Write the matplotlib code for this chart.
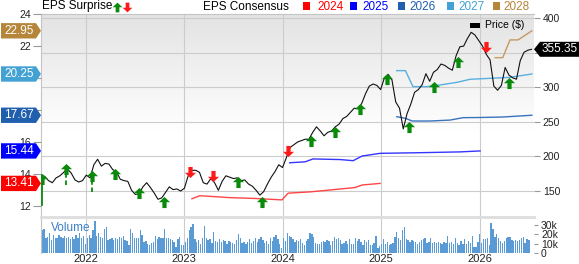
import numpy as np
import pandas as pd
import matplotlib
matplotlib.use("Agg")
import matplotlib.pyplot as plt
from matplotlib.path import Path
from matplotlib.patches import Polygon, Rectangle
from matplotlib.lines import Line2D
from matplotlib.colors import LinearSegmentedColormap
from matplotlib.transforms import blended_transform_factory

plt.rcParams['font.family'] = ['Liberation Sans', 'DejaVu Sans']

# closing price, one value every two weeks
price_dates = pd.date_range('2021-07-19', periods=131, freq='14D')
price = [173, 171, 165, 162, 169, 172, 177, 182, 176, 166,
         163, 165, 173, 169, 188, 196, 186, 190, 189, 181,
         178, 167, 165, 164, 151, 145, 146, 156, 162, 155,
         147, 138, 140, 148, 156, 152, 153, 150, 154, 172,
         180, 180, 177, 162, 160, 168, 162, 151, 164, 172,
         170, 168, 169, 165, 166, 160, 157, 151, 144, 149,
         160, 170, 178, 188, 184, 198, 213, 217, 221, 223,
         225, 225, 235, 243, 237, 230, 235, 237, 243, 247,
         255, 258, 264, 270, 269, 277, 291, 302, 305, 303,
         297, 314, 319, 311, 279, 270, 240, 262, 276, 293,
         297, 304, 320, 309, 322, 326, 334, 332, 328, 325,
         346, 359, 360, 371, 380, 376, 368, 360, 348, 340,
         302, 296, 303, 329, 318, 314, 312, 339, 351, 354,
         355.35]
last_price = 355.35

# weekly volume, thousands
volume_dates = pd.date_range('2021-07-23', periods=259, freq='7D')
volume = [25, 26, 16, 17, 21, 14, 19, 16, 16, 19,
          17, 16, 18, 16, 17, 15, 17, 15, 19, 16,
          21, 16, 18, 10, 16, 19, 16, 25, 34, 18,
          21, 17, 16, 26, 28, 14, 15, 16, 14, 16,
          15, 17, 16, 18, 14, 13, 9, 26, 21, 16,
          16, 16, 25, 19, 12, 13, 10, 9, 11, 12,
          18, 15, 17, 16, 16, 26, 16, 16, 15, 14,
          12, 6, 15, 17, 9, 9, 12, 16, 25, 28,
          31, 15, 12, 14, 10, 16, 29, 16, 14, 15,
          11, 23, 13, 12, 15, 12, 14, 13, 10, 13,
          12, 11, 10, 14, 20, 16, 11, 12, 10, 12,
          15, 11, 13, 16, 12, 15, 17, 14, 11, 13,
          10, 16, 13, 17, 19, 15, 10, 5, 16, 13, 21,
          18, 17, 15, 12, 14, 13, 15, 11, 9, 13,
          15, 21, 20, 17, 11, 10, 10, 12, 13, 12,
          14, 13, 9, 13, 17, 15, 16, 14, 10, 11,
          13, 10, 15, 10, 10, 16, 13, 15, 12, 9,
          14, 12, 14, 9, 9, 11, 18, 5, 7, 10,
          15, 10, 12, 9, 10, 11, 17, 23, 16, 14,
          25, 28, 15, 14, 12, 14, 13, 12, 10, 12,
          14, 15, 16, 11, 12, 16, 11, 12, 11, 12,
          11, 10, 12, 11, 18, 11, 12, 10, 16, 11,
          9, 13, 10, 15, 10, 13, 11, 18, 6, 6,
          12, 20, 11, 15, 15, 16, 9, 32, 26, 17,
          20, 16, 13, 11, 13, 16, 17, 17, 14, 13,
          14, 13, 14, 16, 17, 11, 15, 14]

# EPS consensus by fiscal year
eps_2024_dates = ['2023-01-30', '2023-02-28', '2023-04-08', '2023-06-20', '2023-09-20', '2023-12-30',
                  '2024-01-22', '2024-04-12', '2024-06-26', '2024-09-26', '2024-10-22', '2024-12-28']
eps_2024 = [12.45, 12.64, 12.60, 12.52, 12.47, 12.38, 12.80, 12.88, 13.00, 13.15, 13.31, 13.41]
eps_2025_dates = ['2024-01-28', '2024-03-25', '2024-04-23', '2024-08-02', '2024-09-19', '2024-10-22',
                  '2024-12-28', '2025-05-26', '2025-10-21', '2026-01-03']
eps_2025 = [14.70, 14.76, 14.94, 14.90, 14.83, 15.12, 15.29, 15.33, 15.38, 15.44]
eps_2026_dates = ['2025-02-28', '2025-04-01', '2025-04-26', '2025-07-01', '2025-09-14', '2025-11-01',
                  '2026-01-03', '2026-03-28', '2026-07-14']
eps_2026 = [17.58, 17.48, 17.31, 17.31, 17.37, 17.52, 17.53, 17.56, 17.67]
eps_2027_dates = ['2025-02-28', '2025-04-01', '2025-04-29', '2025-06-20', '2025-08-07', '2025-10-10',
                  '2025-11-27', '2026-02-10', '2026-04-24', '2026-07-14']
eps_2027 = [20.46, 20.46, 19.46, 19.46, 19.56, 19.73, 19.92, 19.98, 20.04, 20.25]
eps_2028_dates = ['2026-02-28', '2026-03-28', '2026-04-24', '2026-05-24', '2026-07-14']
eps_2028 = [21.27, 21.27, 22.38, 22.38, 22.95]

years = ['2024', '2025', '2026', '2027', '2028']
year_colors = ['#ff0000', '#0000ff', '#1f5fae', '#42a2d4', '#b5853a']
line_colors = ['#ff4545', '#3535ff', '#3a72bd', '#58afe0', '#c49a62']
consensus_dates = [eps_2024_dates, eps_2025_dates, eps_2026_dates, eps_2027_dates, eps_2028_dates]
consensus_values = [eps_2024, eps_2025, eps_2026, eps_2027, eps_2028]

# earnings surprises (drawn at price level)
surprise_dates = ['2021-07-23', '2021-10-20', '2022-01-24', '2022-04-19', '2022-07-17',
                  '2022-10-19', '2023-01-22', '2023-04-18', '2023-07-19', '2023-10-17',
                  '2024-01-21', '2024-04-16', '2024-07-14', '2024-10-15', '2025-01-23',
                  '2025-04-15', '2025-07-16', '2025-10-13', '2026-01-25', '2026-04-20']
surprise_up = [True, True, True, True, True, True, False, False, True, True,
               False, True, True, True, True, True, True, True, False, True]
surprise_price = [167, 182, 172, 175, 147, 134, 178, 171, 163, 134,
                  208, 223, 235, 269, 313, 243, 300, 337, 358, 306]
stem_dates = ['2021-07-23', '2021-10-20', '2022-01-24']
stem_top = [161, 176, 166]
stem_low = [130, 159, 149]
stem_styles = ['-', '--', '--']

W, H = 579, 264
fig = plt.figure(figsize=(W / 100, H / 100), dpi=100)
fig.patch.set_facecolor('white')


def rect(l, t, r, b):
    return [l / W, 1 - b / H, (r - l) / W, (b - t) / H]


def fx(x):
    return x / W


def fy(y):
    return 1 - y / H


ax_bg = fig.add_axes(rect(41, 14, 534, 217))
ax_eps = ax_bg.twinx()
ax_top = ax_bg.twinx()
ax_vol = fig.add_axes(rect(41, 217, 534, 253), sharex=ax_bg)

xmin, xmax = pd.Timestamp('2021-07-19'), pd.Timestamp('2026-07-22')
year_ticks = pd.to_datetime(['2022-01-01', '2023-01-01', '2024-01-01', '2025-01-01', '2026-01-01'])

# background gradient
bg_cmap = LinearSegmentedColormap.from_list('bg', [(0, '#ffffff'), (0.42, '#ffffff'), (1, '#e3e3e3')])
grad = np.linspace(0, 1, 256).reshape(-1, 1)
ax_bg.imshow(grad, extent=[0, 1, 0, 1], transform=ax_bg.transAxes, cmap=bg_cmap,
             aspect='auto', origin='lower', zorder=0)

ax_bg.set_xlim(xmin, xmax)
ax_bg.set_ylim(112.3, 406.5)
ax_top.set_ylim(112.3, 406.5)
ax_eps.set_ylim(11.31, 24.0)

# 350, 20 and 18 sit behind the value tags
ax_bg.set_xticks(year_ticks)
ax_bg.set_yticks([150, 200, 250, 300, 350, 400])
ax_bg.set_yticklabels(['150', '200', '250', '300', '', '400'])
ax_bg.set_axisbelow(True)
ax_bg.grid(True, color='#cccccc', lw=0.8)
ax_bg.yaxis.tick_right()
ax_bg.tick_params(axis='x', length=0, labelbottom=False)
ax_bg.tick_params(axis='y', right=True, left=False, labelright=True, labelleft=False,
                  length=4.3, pad=2, labelsize=7.5, color='#999999', labelcolor='#222222')
for side in ['right', 'bottom']:
    ax_bg.spines[side].set_visible(False)
for side in ['left', 'top']:
    ax_bg.spines[side].set_color('#c4c4c4')

ax_eps.yaxis.tick_left()
ax_eps.set_yticks([12, 14, 16, 18, 20, 22, 24])
ax_eps.set_yticklabels(['12', '14', '16', '', '', '22', '24'])
ax_eps.tick_params(axis='y', length=5.8, pad=1.5, labelsize=7.5, color='#999999', labelcolor='#222222')
for s in ax_eps.spines.values():
    s.set_visible(False)
ax_top.yaxis.set_visible(False)
for s in ax_top.spines.values():
    s.set_visible(False)

# consensus lines
for dates, values, col in zip(consensus_dates, consensus_values, line_colors):
    ax_eps.plot(pd.to_datetime(dates), values, color=col, lw=1.0, zorder=3)

# price line
ax_top.plot(price_dates, price, color='#111111', lw=0.8, zorder=3)

# surprise arrows
arrow_verts = [(0, 1), (1, 0.05), (0.38, 0.05), (0.38, -1), (-0.38, -1), (-0.38, 0.05), (-1, 0.05), (0, 1)]
up_marker = Path(arrow_verts, closed=True)
down_marker = Path([(x, -y) for x, y in arrow_verts], closed=True)

for d, t, lo, ls in zip(stem_dates, stem_top, stem_low, stem_styles):
    ax_top.plot([pd.Timestamp(d)] * 2, [lo, t], color='#0a8a0a', lw=1.3, ls=ls,
                dashes=(2.5, 1.5) if ls == '--' else (None, None), zorder=4)
for d, up, p in zip(surprise_dates, surprise_up, surprise_price):
    ax_top.plot(pd.Timestamp(d), p, marker=up_marker if up else down_marker,
                color='#0a8a0a' if up else '#ff1a1a', markersize=8, linestyle='none',
                markeredgewidth=0, zorder=5)

# value tags on the left
tag_tr = blended_transform_factory(ax_eps.transAxes, ax_eps.transData)
axw = 534 - 41
for vals, col in zip(consensus_values, year_colors):
    v = vals[-1]
    h = 0.48
    verts = [(-40 / axw, v + h), (-5 / axw, v + h), (0, v), (-5 / axw, v - h), (-40 / axw, v - h)]
    ax_eps.add_patch(Polygon(verts, closed=True, facecolor=col, edgecolor='none',
                             transform=tag_tr, clip_on=False, zorder=10))
    ax_eps.text(-22 / axw, v, f'{v:.2f}', transform=tag_tr, color='white', fontsize=8.5,
                ha='center', va='center', zorder=11, clip_on=False)

# last price tag on the right
ptr = blended_transform_factory(ax_top.transAxes, ax_top.transData)
ph = 7.5 / 0.69
pverts = [(1, last_price), (1 + 6 / axw, last_price + ph), (1 + 45 / axw, last_price + ph),
          (1 + 45 / axw, last_price - ph), (1 + 6 / axw, last_price - ph)]
ax_top.add_patch(Polygon(pverts, closed=True, facecolor='black', edgecolor='none',
                         transform=ptr, clip_on=False, zorder=10))
ax_top.text(1 + 26 / axw, last_price, f'{last_price:.2f}', transform=ptr, color='white',
            fontsize=8.5, ha='center', va='center', zorder=11, clip_on=False)

# volume panel
ax_vol.bar(volume_dates, volume, width=5, color='#5b9bd5', edgecolor='none', zorder=2)
ax_vol.set_ylim(0, 38.6)
ax_vol.set_xlim(xmin, xmax)
ax_vol.set_xticks(year_ticks)
ax_vol.set_xticklabels([str(t.year) for t in year_ticks])
ax_vol.set_yticks([0, 10, 20, 30])
ax_vol.set_yticklabels(['0', '10k', '20k', '30k'])
ax_vol.yaxis.tick_right()
ax_vol.grid(True, axis='x', color='#cccccc', lw=0.8)
ax_vol.set_axisbelow(True)
ax_vol.tick_params(axis='x', length=0, pad=0.8, labelsize=8, labelcolor='#222222')
ax_vol.tick_params(axis='y', length=3, pad=2, labelsize=7.5, color='#999999', labelcolor='#222222')
ax_vol.spines['top'].set_color('#dddddd')
ax_vol.spines['top'].set_linewidth(2)
ax_vol.spines['left'].set_color('#c4c4c4')
ax_vol.spines['right'].set_visible(False)
ax_vol.spines['bottom'].set_visible(False)
ax_vol.text(10 / axw, 0.69, 'Volume', transform=ax_vol.transAxes, color='#3c7fc6',
            fontsize=8.5, va='center', ha='left', zorder=5)

# legend row
fig.text(fx(41.5), fy(6.5), 'EPS Surprise', fontsize=8.5, va='center', ha='left')
fig.add_artist(Line2D([fx(117)], [fy(6.5)], marker=up_marker, color='#0a8a0a', markersize=7,
                      markeredgewidth=0, transform=fig.transFigure))
fig.add_artist(Line2D([fx(127)], [fy(6.5)], marker=down_marker, color='#ff1a1a', markersize=7,
                      markeredgewidth=0, transform=fig.transFigure))
fig.text(fx(203), fy(6.5), 'EPS Consensus', fontsize=8.5, va='center', ha='left')
for year, col, sx, tx in zip(years, year_colors, [303, 350, 398, 447, 493], [317, 362, 409, 458, 503]):
    fig.add_artist(Rectangle((fx(sx), fy(9.5)), 7 / W, 8 / H, facecolor=col, edgecolor='none',
                             transform=fig.transFigure))
    fig.text(fx(tx), fy(6.5), year, fontsize=8.5, color=col, va='center', ha='left')

fig.add_artist(Rectangle((fx(470), fy(28)), 10 / W, 5 / H, facecolor='black', edgecolor='none',
                         transform=fig.transFigure, zorder=12))
fig.text(fx(485), fy(25.5), 'Price ($)', fontsize=7.5, va='center', ha='left', zorder=12)

fig.savefig('out.png', dpi=100)
